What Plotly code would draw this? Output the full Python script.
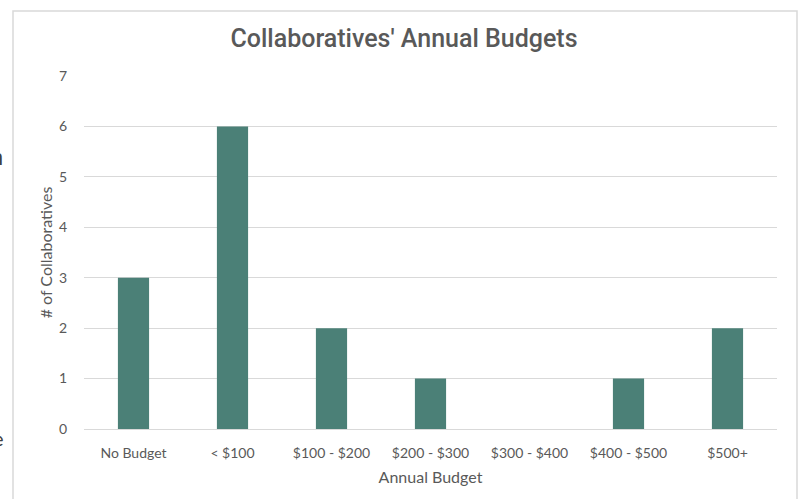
import plotly.graph_objects as go

# Annual budget brackets and how many collaboratives fall in each
categories = ["No Budget", "< $100", "$100 - $200", "$200 - $300", "$300 - $400", "$400 - $500", "$500+"]
counts = [3, 6, 2, 1, 0, 1, 2]
y_ticks = [0, 1, 2, 3, 4, 5, 6, 7]

W, H = 801, 499
L, R, T, B = 84, 24, 76, 70
pw, ph = W - L - R, H - T - B

def px_x(x):
    return (x - L) / pw

def px_y(y):
    return (H - B - y) / ph

bar_color = "#4B8077"
text_color = "#595959"
grid_color = "#D9D9D9"
tick_font = dict(family="Lato, Carlito, sans-serif", size=14, color=text_color)
axis_title_font = dict(family="Lato, Carlito, sans-serif", size=16, color=text_color)

fig = go.Figure(
    go.Bar(
        x=categories,
        y=counts,
        marker=dict(color=bar_color, line=dict(width=0)),
        hoverinfo="x+y",
    )
)

fig.update_layout(
    width=W,
    height=H,
    margin=dict(l=L, r=R, t=T, b=B),
    paper_bgcolor="white",
    plot_bgcolor="white",
    bargap=0.685,
    showlegend=False,
    title=dict(
        text="Collaboratives' Annual Budgets",
        font=dict(family="Roboto, sans-serif", size=25, color=text_color, weight=500),
        x=404 / W,
        xanchor="center",
        y=1 - 38 / H,
        yanchor="middle",
    ),
    xaxis=dict(
        showgrid=False,
        showline=True,
        linecolor=grid_color,
        linewidth=1,
        tickfont=tick_font,
        ticks="",
        ticklabelstandoff=11,
        title=dict(text="Annual Budget", font=axis_title_font, standoff=12),
    ),
    yaxis=dict(
        range=[0, 7],
        tickvals=y_ticks,
        showgrid=True,
        gridcolor=grid_color,
        gridwidth=1,
        zeroline=False,
        tickfont=tick_font,
        ticks="",
        ticklabelstandoff=16,
        title=dict(text="# of Collaboratives", font=axis_title_font, standoff=2),
    ),
    shapes=[
        dict(
            type="rect",
            xref="paper",
            yref="paper",
            x0=px_x(13),
            x1=px_x(797),
            y0=px_y(510),
            y1=px_y(11),
            line=dict(color=grid_color, width=1.5),
            fillcolor="rgba(0,0,0,0)",
            layer="below",
        )
    ],
    annotations=[
        dict(
            text="n",
            xref="paper",
            yref="paper",
            x=px_x(5),
            y=px_y(157),
            xanchor="right",
            yanchor="middle",
            showarrow=False,
            font=dict(family="Roboto, sans-serif", size=22, color="#404040"),
        ),
        dict(
            text="e",
            xref="paper",
            yref="paper",
            x=px_x(6),
            y=px_y(438),
            xanchor="right",
            yanchor="middle",
            showarrow=False,
            font=dict(family="Lato, sans-serif", size=20, color="#404040"),
        ),
    ],
)

fig.write_html("out.html")
